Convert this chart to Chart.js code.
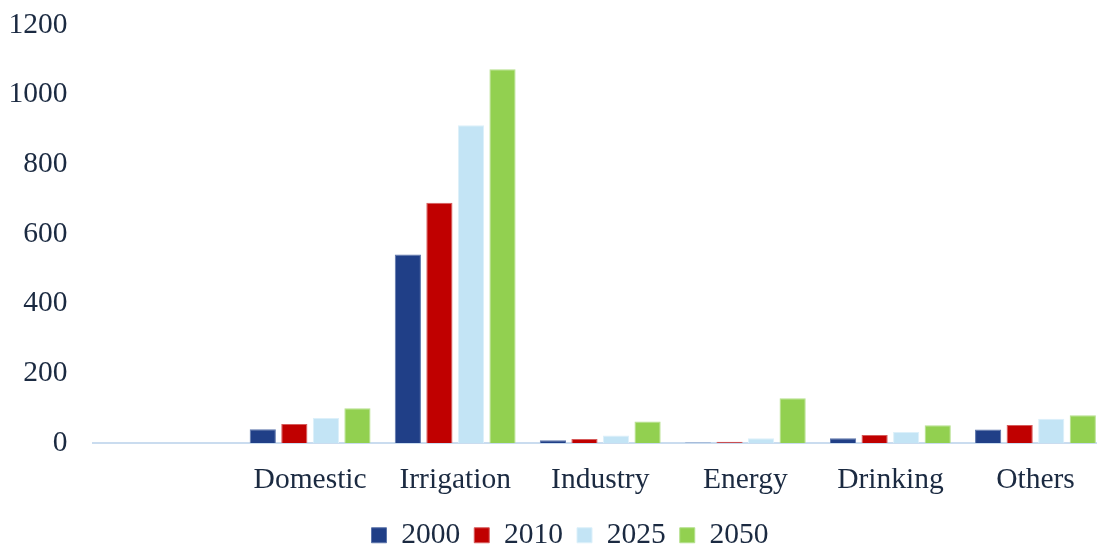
<!DOCTYPE html>
<html>
<head>
<meta charset="utf-8">
<script src="https://cdn.jsdelivr.net/npm/chart.js@4/dist/chart.umd.min.js"></script>
<style>
  html, body { margin: 0; padding: 0; background: #fff; overflow: hidden; }
  #wrap { width: 1097px; height: 546px; overflow: hidden; position: relative; }
  #inner { width: 1140px; height: 570px; position: absolute; left: 0; top: 0; }
</style>
</head>
<body>
<div id="wrap"><div id="inner"><canvas id="c"></canvas></div></div>
<script>
const categories = ["", "Domestic", "Irrigation", "Industry", "Energy", "Drinking", "Others"];
const seriesNames = ["2000", "2010", "2025", "2050"];
const values2000 = [null, 40, 541, 8, 2, 14, 39];
const values2010 = [null, 55, 690, 12, 4, 23, 52];
const values2025 = [null, 72, 912, 22, 14, 32, 70];
const values2050 = [null, 100, 1073, 62, 129, 51, 80];
const yTicks = [0, 200, 400, 600, 800, 1000, 1200];

const fills = ["#203F87", "#C00000", "#C3E4F5", "#92D050"];
const edges = ["#5b74aa", "#d65c5c", "#dcf0fa", "#b5e08c"];
const textColor = "#1b2a41";
const fontFamily = "'Liberation Serif', 'Times New Roman', serif";
const fontSize = 29.5;

const allValues = [values2000, values2010, values2025, values2050];

const legendShift = {
  id: 'legendShift',
  afterLayout(chart) {
    if (chart.legend) { chart.legend.top -= 10; chart.legend.bottom -= 10; }
  }
};

new Chart(document.getElementById('c'), {
  type: 'bar',
  data: {
    labels: categories,
    datasets: seriesNames.map((name, i) => ({
      label: name,
      data: allValues[i],
      backgroundColor: fills[i],
      borderColor: edges[i],
      borderWidth: 1,
      categoryPercentage: 0.87,
      barPercentage: 0.83
    }))
  },
  plugins: [legendShift],
  options: {
    responsive: true,
    maintainAspectRatio: false,
    animation: false,
    layout: { padding: { left: 4.5, right: 4.5, top: 25, bottom: 0 } },
    plugins: {
      legend: {
        position: 'bottom',
        labels: {
          boxWidth: 15,
          boxHeight: 15,
          padding: 14,
          color: textColor,
          font: { family: fontFamily, size: fontSize }
        }
      },
      tooltip: { enabled: false }
    },
    scales: {
      x: {
        grid: { display: false, drawTicks: false },
        border: { display: true, color: '#cadcef', width: 2 },
        ticks: { color: textColor, font: { family: fontFamily, size: fontSize }, padding: 19, maxRotation: 0, autoSkip: false }
      },
      y: {
        min: 0,
        max: 1200,
        afterBuildTicks: (scale) => { scale.ticks = yTicks.map(v => ({ value: v })); },
        afterFit: (scale) => { scale.width = 88; scale.paddingTop = 0; scale.paddingBottom = 0; },
        grid: { display: false, drawTicks: false },
        border: { display: false },
        ticks: { color: textColor, font: { family: fontFamily, size: fontSize }, padding: 25, callback: (v) => String(v) }
      },
      yRight: {
        position: 'right',
        display: true,
        min: 0,
        max: 1200,
        afterFit: (scale) => { scale.width = 27.5; scale.paddingTop = 0; scale.paddingBottom = 0; },
        grid: { display: false, drawTicks: false },
        border: { display: false },
        ticks: { display: false }
      }
    }
  }
});
</script>
</body>
</html>
